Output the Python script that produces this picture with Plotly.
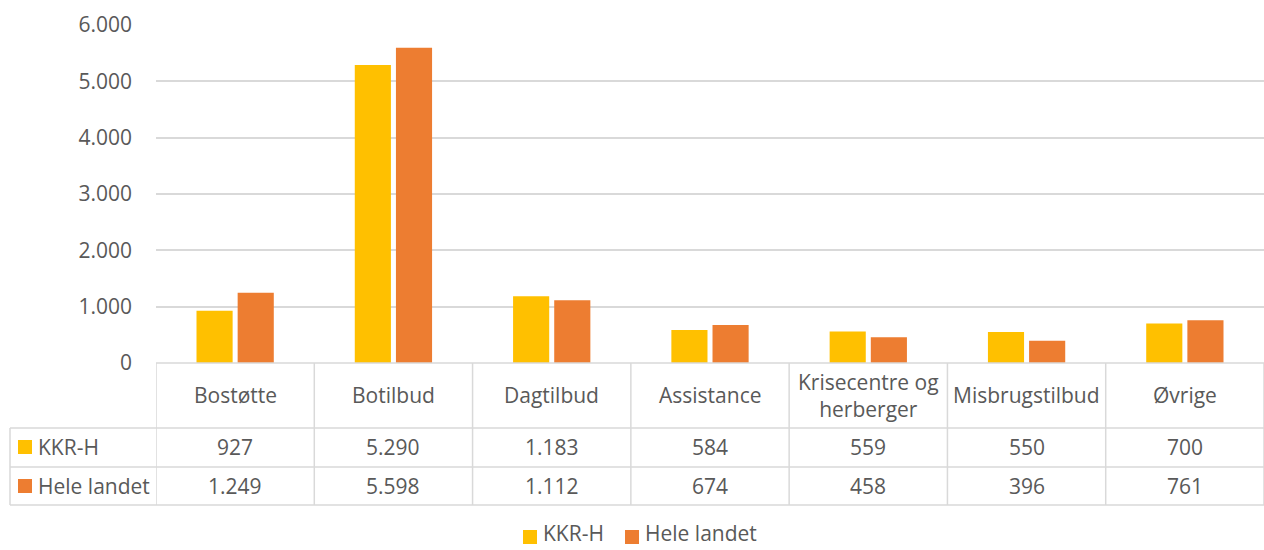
import plotly.graph_objects as go

categories = ["Bostøtte", "Botilbud", "Dagtilbud", "Assistance",
              "Krisecentre og<br>herberger", "Misbrugstilbud", "Øvrige"]
series_names = ["KKR-H", "Hele landet"]
kkr_h = [927, 5290, 1183, 584, 559, 550, 700]
hele_landet = [1249, 5598, 1112, 674, 458, 396, 761]
y_ticks = [0, 1000, 2000, 3000, 4000, 5000, 6000]

colors = ["#FFC000", "#ED7D31"]
series_values = [kkr_h, hele_landet]

W, H = 1264, 550
FONT = "Open Sans"
TXT = "#595959"
GRID = "#D9D9D9"
FS = 21


def py(p):
    return 1 - p / H


def px(p):
    return p / W


fig = go.Figure()
for name, vals, c in zip(series_names, series_values, colors):
    fig.add_trace(go.Bar(x=categories, y=vals, name=name, marker_color=c,
                         marker_line_width=0, showlegend=False))

shapes = []
annotations = []
n = len(categories)
line = dict(color=GRID, width=1.5)

# horizontal table lines
shapes.append(dict(type="line", xref="paper", yref="paper", x0=px(156), x1=1,
                   y0=py(363), y1=py(363), line=line))
for yy in [428, 467, 505]:
    shapes.append(dict(type="line", xref="paper", yref="paper", x0=px(10), x1=1,
                       y0=py(yy), y1=py(yy), line=line))
# vertical lines
shapes.append(dict(type="line", xref="paper", yref="paper", x0=px(10), x1=px(10),
                   y0=py(428), y1=py(505), line=line))
for i in range(n + 1):
    shapes.append(dict(type="line", xref="x", yref="paper", x0=i - 0.5, x1=i - 0.5,
                       y0=py(363), y1=py(505), line=line))

# header cells
for i, cat in enumerate(categories):
    annotations.append(dict(x=i, y=py(395), xref="x", yref="paper", text=cat,
                            showarrow=False, xanchor="center", yanchor="middle",
                            font=dict(family=FONT, size=FS, color=TXT)))

# data rows
row_centers = [447, 486]
for r, (name, vals, c) in enumerate(zip(series_names, series_values, colors)):
    yc = row_centers[r]
    shapes.append(dict(type="rect", xref="paper", yref="paper",
                       x0=px(18), x1=px(32), y0=py(yc - 7), y1=py(yc + 7),
                       fillcolor=c, line=dict(width=0)))
    annotations.append(dict(x=px(36), y=py(yc), xref="paper", yref="paper",
                            text=name, showarrow=False, xanchor="left", yanchor="middle",
                            font=dict(family=FONT, size=FS, color=TXT)))
    for i, v in enumerate(vals):
        s = f"{v:,}".replace(",", ".")
        annotations.append(dict(x=i, y=py(yc), xref="x", yref="paper", text=s,
                                showarrow=False, xanchor="center", yanchor="middle",
                                font=dict(family=FONT, size=FS, color=TXT)))

# bottom legend
legend_x = [523, 625]
ly = 537
for name, c, lx in zip(series_names, colors, legend_x):
    shapes.append(dict(type="rect", xref="paper", yref="paper",
                       x0=px(lx), x1=px(lx + 14), y0=py(ly - 7), y1=py(ly + 7),
                       fillcolor=c, line=dict(width=0)))
    annotations.append(dict(x=px(lx + 18), y=py(H - 1), xref="paper", yref="paper",
                            text=name, showarrow=False, xanchor="left", yanchor="bottom",
                            font=dict(family=FONT, size=FS, color=TXT)))

fig.update_layout(
    width=W, height=H, autosize=False,
    margin=dict(l=0, r=0, t=0, b=0, pad=0),
    paper_bgcolor="white", plot_bgcolor="white",
    separators=",.",
    barmode="group", bargap=0.48, bargroupgap=0.122,
    showlegend=False,
    font=dict(family=FONT, size=FS, color=TXT),
    xaxis=dict(domain=[px(156), 1], range=[-0.5, n - 0.5], showticklabels=False,
               showgrid=False, zeroline=False, showline=False, fixedrange=True,
               automargin=False),
    yaxis=dict(domain=[py(363), py(25)], range=[0, 6000], tickvals=y_ticks,
               tickformat=",d", showgrid=True, gridcolor=GRID, gridwidth=1.5,
               zeroline=False, showline=False, ticks="", ticklabelstandoff=23,
               automargin=False, fixedrange=True,
               tickfont=dict(family=FONT, size=FS, color=TXT)),
    shapes=shapes, annotations=annotations,
)

fig.write_html("out.html", config={"displayModeBar": False},
               post_script="document.body.style.margin='0';document.body.style.overflow='hidden';")
